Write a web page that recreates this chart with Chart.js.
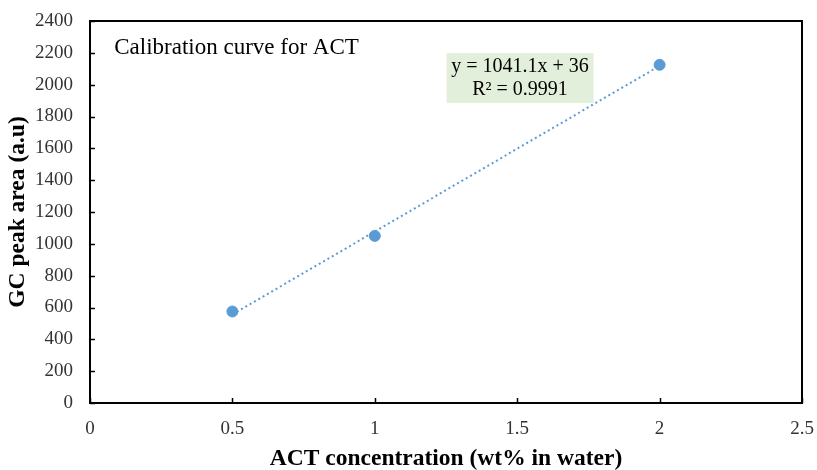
<!DOCTYPE html>
<html>
<head>
<meta charset="utf-8">
<script src="https://cdn.jsdelivr.net/npm/chart.js@4"></script>
<style>
  html, body { margin: 0; padding: 0; background: #fff; }
  #wrap { width: 817px; height: 470px; }
</style>
</head>
<body>
<div id="wrap"><canvas id="c" width="817" height="470"></canvas></div>
<script>
// Calibration measurements
const concentrations = [0.5, 1, 2];          // wt% in water
const peakAreas = [575, 1050, 2125];         // GC peak area (a.u)

// Linear fit reported on the chart
const fitSlope = 1041.1;
const fitIntercept = 36;
const fitR2 = 0.9991;
const fitRange = [0.5, 2];

const xTicks = [0, 0.5, 1, 1.5, 2, 2.5];
const yTicks = [0, 200, 400, 600, 800, 1000, 1200, 1400, 1600, 1800, 2000, 2200, 2400];

const SERIF = "'Liberation Serif', 'Times New Roman', serif";
const BLUE = '#5B9BD5';
const TICK_COLOR = '#333333';

const pointData = concentrations.map((x, i) => ({ x, y: peakAreas[i] }));
const fitData = fitRange.map(x => ({ x, y: fitSlope * x + fitIntercept }));

// Frame, inward tick marks, caption and equation box
const decorations = {
  id: 'decorations',
  afterDatasetsDraw(chart) {
    const { ctx, chartArea: a, scales: { x, y } } = chart;
    ctx.save();
    ctx.strokeStyle = '#000';
    ctx.lineWidth = 2;
    ctx.strokeRect(a.left, a.top, a.right - a.left, a.bottom - a.top);
    ctx.lineWidth = 1.5;
    ctx.beginPath();
    xTicks.forEach(v => {
      const px = Math.round(x.getPixelForValue(v)) + 0.5;
      ctx.moveTo(px, a.bottom);
      ctx.lineTo(px, a.bottom - 5);
    });
    yTicks.forEach(v => {
      const py = Math.round(y.getPixelForValue(v)) + 0.5;
      ctx.moveTo(a.left, py);
      ctx.lineTo(a.left + 5, py);
    });
    ctx.stroke();

    // Caption inside the plot
    ctx.fillStyle = '#000';
    ctx.font = `23px ${SERIF}`;
    ctx.textAlign = 'left';
    ctx.textBaseline = 'middle';
    ctx.fillText('Calibration curve for ACT', x.getPixelForValue(0.085), y.getPixelForValue(2228));

    // Regression equation box
    const cx = x.getPixelForValue(1.51);
    const cy = y.getPixelForValue(2042);
    const w = 147, h = 50;
    ctx.fillStyle = '#E2EFDA';
    ctx.fillRect(cx - w / 2, cy - h / 2, w, h);
    ctx.fillStyle = '#000';
    ctx.font = `20px ${SERIF}`;
    ctx.textAlign = 'center';
    ctx.fillText(`y = ${fitSlope}x + ${fitIntercept}`, cx, cy - 11);
    ctx.fillText(`R² = ${fitR2}`, cx, cy + 12);
    ctx.restore();
  }
};

new Chart(document.getElementById('c'), {
  type: 'scatter',
  data: {
    datasets: [
      {
        label: 'Linear fit',
        data: fitData,
        showLine: true,
        borderColor: BLUE,
        borderWidth: 2,
        borderDash: [2, 3],
        pointRadius: 0,
        fill: false
      },
      {
        label: 'ACT',
        data: pointData,
        backgroundColor: BLUE,
        borderColor: BLUE,
        pointRadius: 5.5,
        pointHoverRadius: 5.5
      }
    ]
  },
  options: {
    responsive: false,
    animation: false,
    layout: { padding: { top: 21, right: 15, left: 0, bottom: 0 } },
    plugins: { legend: { display: false }, tooltip: { enabled: false } },
    scales: {
      x: {
        type: 'linear',
        min: 0, max: 2.5,
        afterBuildTicks: s => { s.ticks = xTicks.map(v => ({ value: v })); },
        afterFit: s => { s.height = 67; s.paddingLeft = 0; s.paddingRight = 0; },
        grid: { display: false, drawTicks: false },
        border: { display: false },
        ticks: {
          color: TICK_COLOR,
          font: { family: SERIF, size: 19 },
          padding: 15,
          maxRotation: 0,
          callback: v => String(v)
        },
        title: {
          display: true,
          text: 'ACT concentration (wt% in water)',
          color: '#000',
          font: { family: SERIF, size: 23.5, weight: 'bold' },
          padding: { top: 0, bottom: -3 }
        }
      },
      y: {
        type: 'linear',
        min: 0, max: 2400,
        afterBuildTicks: s => { s.ticks = yTicks.map(v => ({ value: v })); },
        afterFit: s => { s.width = 90; s.paddingTop = 0; s.paddingBottom = 0; },
        grid: { display: false, drawTicks: false },
        border: { display: false },
        ticks: {
          color: TICK_COLOR,
          font: { family: SERIF, size: 19 },
          padding: 17,
          callback: v => String(v)
        },
        title: {
          display: true,
          text: 'GC peak area (a.u)',
          color: '#000',
          font: { family: SERIF, size: 23.5, weight: 'bold' },
          padding: { top: 4, bottom: 0 }
        }
      }
    }
  },
  plugins: [decorations]
});
</script>
</body>
</html>
